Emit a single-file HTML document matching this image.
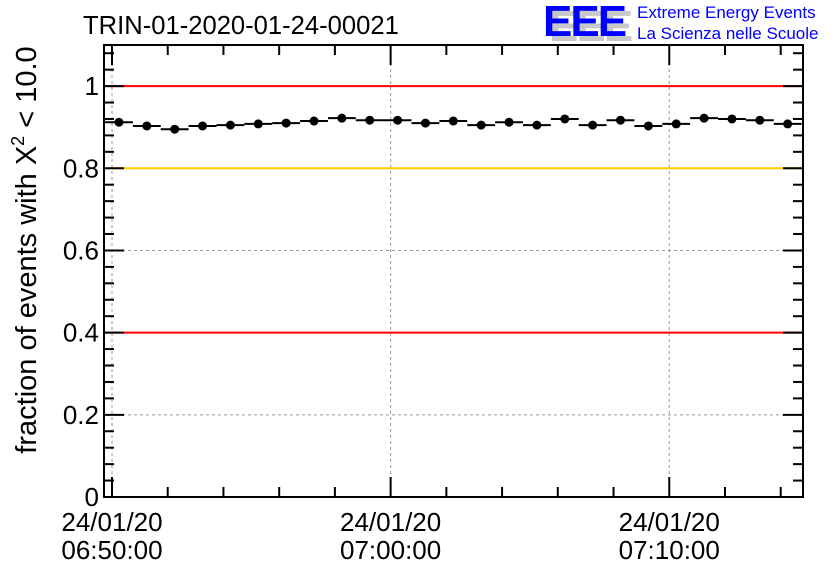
<!DOCTYPE html>
<html><head><meta charset="utf-8"><style>
body{margin:0;background:#fff;}
svg{display:block;font-family:"Liberation Sans",Arial,sans-serif;}
</style></head><body>
<svg id="chart" width="836" height="572" viewBox="0 0 836 572" xmlns="http://www.w3.org/2000/svg">
<rect width="836" height="572" fill="#fff"/>
<text x="83" y="34" font-size="25.6" fill="#000">TRIN-01-2020-01-24-00021</text>
<g>
<text x="549" y="41" font-size="44" font-weight="bold" fill="#c8c8c8" letter-spacing="-2">EEE</text>
<text x="543" y="36" font-size="44" font-weight="bold" fill="#0000ff" letter-spacing="-2">EEE</text>
<text x="637" y="18" font-size="17" fill="#0000ff">Extreme Energy Events</text>
<text x="637" y="39" font-size="17" fill="#0000ff">La Scienza nelle Scuole</text>
</g>
<g id="grid"></g>
<g id="refs"></g>
<g id="series"></g>
<g id="axes"></g>
<text transform="translate(36,250) rotate(-90)" text-anchor="middle" font-size="29" fill="#000">fraction of events with X<tspan font-size="18" dy="-12">2</tspan><tspan dy="12"> &lt; 10.0</tspan></text>
</svg>
<script>
const values=[0.912,0.903,0.895,0.903,0.905,0.908,0.910,0.915,0.922,0.917,0.917,0.910,0.915,0.905,0.912,0.905,0.920,0.905,0.917,0.903,0.908,0.922,0.920,0.917,0.908];
const binStartMin=-0.25;
const binWidthMin=1;
const yTicks=[0,0.2,0.4,0.6,0.8,1];
const yTickLabels=["0","0.2","0.4","0.6","0.8","1"];
const xTicksMin=[0,10,20];
const xTickLabels1=["24/01/20","24/01/20","24/01/20"];
const xTickLabels2=["06:50:00","07:00:00","07:10:00"];
const refValues=[1,0.8,0.4];
const refColors=["#ff0000","#ffcc00","#ff0000"];

const L=104,R=803,T=45,B=497;
const xMin=-0.287,xMax=24.8,yMin=0,yMax=1.1;
const X=m=>L+(m-xMin)/(xMax-xMin)*(R-L);
const Y=v=>B-(v-yMin)/(yMax-yMin)*(B-T);
const NS="http://www.w3.org/2000/svg";
function mk(tag,attrs,parent){const e=document.createElementNS(NS,tag);for(const k in attrs)e.setAttribute(k,attrs[k]);parent.appendChild(e);return e;}
const grid=document.getElementById('grid'),refs=document.getElementById('refs'),series=document.getElementById('series'),axes=document.getElementById('axes');

yTicks.forEach(v=>{if(v>0&&v<1.1){const g=mk('line',{x1:L,x2:R,y1:Y(v),y2:Y(v),stroke:'#999','stroke-dasharray':'3,3','stroke-width':1},grid);

}});
xTicksMin.forEach(m=>{const g=mk('line',{x1:X(m),x2:X(m),y1:T,y2:B,stroke:'#999','stroke-dasharray':'3,3','stroke-width':1},grid);

});

refValues.forEach((v,i)=>{const l=mk('line',{x1:L,x2:R,y1:Y(v),y2:Y(v),stroke:refColors[i],'stroke-width':2},refs);

});

values.forEach((v,i)=>{const s=binStartMin+i*binWidthMin,c=s+binWidthMin/2;
const b=mk('line',{x1:X(s),x2:X(s+binWidthMin),y1:Y(v),y2:Y(v),stroke:'#000','stroke-width':2},series);


const p=mk('circle',{cx:X(c),cy:Y(v),r:4.5,fill:'#000'},series);

});

const f=mk('rect',{x:L,y:T,width:R-L,height:B-T,fill:'none',stroke:'#000','stroke-width':2},axes);


for(let v=0;v<=1.1001;v+=0.04){const major=Math.abs(v*5-Math.round(v*5))<1e-6;const len=major?20:10;
mk('line',{x1:L,x2:L+len,y1:Y(v),y2:Y(v),stroke:'#000','stroke-width':2},axes);
mk('line',{x1:R,x2:R-len,y1:Y(v),y2:Y(v),stroke:'#000','stroke-width':2},axes);}
for(let m=0;m<=24.8;m+=2){const major=m%10===0;const len=major?20:10;
mk('line',{x1:X(m),x2:X(m),y1:B,y2:B-len,stroke:'#000','stroke-width':2},axes);
mk('line',{x1:X(m),x2:X(m),y1:T,y2:T+len,stroke:'#000','stroke-width':2},axes);}
yTicks.forEach((v,i)=>{const t=mk('text',{x:99,y:Y(v)+9,'text-anchor':'end','font-size':26,fill:'#000'},axes);t.textContent=yTickLabels[i];

});
xTicksMin.forEach((m,i)=>{const t1=mk('text',{x:X(m)-0,y:531,'text-anchor':'middle','font-size':26,fill:'#000'},axes);t1.textContent=xTickLabels1[i];


const t2=mk('text',{x:X(m)-0,y:559,'text-anchor':'middle','font-size':26,fill:'#000'},axes);t2.textContent=xTickLabels2[i];

});
</script>
</body></html>
